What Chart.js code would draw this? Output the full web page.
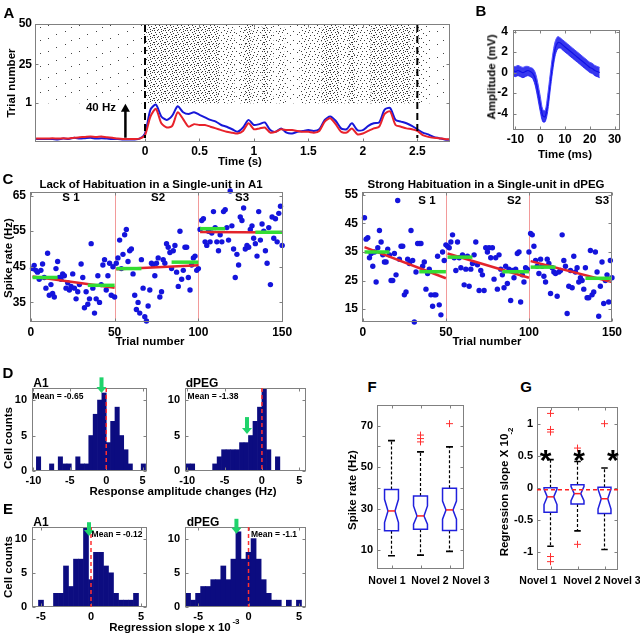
<!DOCTYPE html>
<html>
<head>
<meta charset="utf-8">
<script src="https://cdn.jsdelivr.net/npm/chart.js@4.4.0/dist/chart.umd.min.js"></script>
<style>
  body { margin: 0; background: #fff; }
  #fig { position: relative; width: 640px; height: 637px; overflow: hidden;
         font-family: 'Liberation Sans', Arial, sans-serif; font-weight: bold; color: #000; }
  canvas { position: absolute; }
  .t { position: absolute; white-space: nowrap; line-height: 1; transform: translate(-50%, -50%); }
  .t.r { transform: translate(-50%, -50%) rotate(-90deg); }
</style>
</head>
<body>
<div id="fig">
  <canvas id="cA"></canvas>
  <canvas id="cB"></canvas>
  <canvas id="cC1"></canvas>
  <canvas id="cC2"></canvas>
  <canvas id="cD1"></canvas>
  <canvas id="cD2"></canvas>
  <canvas id="cE1"></canvas>
  <canvas id="cE2"></canvas>
  <canvas id="cF"></canvas>
  <canvas id="cG"></canvas>
</div>
<script>
// ---- A: raster + PSTH (rates in Hz, 50 ms steps) ----
const psthTime = [-1.00, -0.95, -0.90, -0.85, -0.80, -0.75, -0.70, -0.65, -0.60, -0.55,
  -0.50, -0.45, -0.40, -0.35, -0.30, -0.25, -0.20, -0.15, -0.10, -0.05,
  0.00, 0.05, 0.10, 0.15, 0.20, 0.25, 0.30, 0.35, 0.40, 0.45,
  0.50, 0.55, 0.60, 0.65, 0.70, 0.75, 0.80, 0.85, 0.90, 0.95,
  1.00, 1.05, 1.10, 1.15, 1.20, 1.25, 1.30, 1.35, 1.40, 1.45,
  1.50, 1.55, 1.60, 1.65, 1.70, 1.75, 1.80, 1.85, 1.90, 1.95,
  2.00, 2.05, 2.10, 2.15, 2.20, 2.25, 2.30, 2.35, 2.40, 2.45,
  2.50, 2.55, 2.60, 2.65, 2.70, 2.75, 2.80];
const psthBlue = [3.5, 3.5, 3.5, 3.5, 3.0, 4.0, 3.5, 5.0, 4.0, 4.5,
  5.0, 4.0, 4.5, 4.0, 3.5, 3.5, 3.0, 3.0, 3.0, 4.0,
  10, 38, 44, 30, 26, 31, 42, 35, 33, 35,
  32, 29, 26, 24, 20, 18, 15, 12, 17, 26,
  20, 21, 23, 14, 12, 16, 11, 10, 12, 13,
  14, 13, 15, 26, 30, 25, 16, 15, 22, 14,
  14, 19, 22, 23, 38, 40, 26, 24, 22, 19,
  15, 11, 9, 6, 4.5, 3, 2.5];
const psthRed = [4.0, 4.0, 4.0, 4.5, 4.0, 4.5, 4.0, 5.0, 5.5, 6.0,
  6.5, 6.0, 6.5, 5.5, 5.0, 4.0, 3.5, 3.5, 3.5, 4.0,
  8, 30, 39, 22, 17, 19, 35, 27, 18, 21,
  20, 20, 18, 16, 14, 12, 11, 10, 13, 22,
  15, 16, 17, 11, 12, 15, 14, 14, 13, 12,
  12, 11, 13, 24, 28, 21, 12, 11, 16, 9,
  10, 13, 16, 18, 33, 36, 20, 18, 16, 15,
  13, 8, 6, 5, 4.5, 3.5, 3];
const rasterTrials = [1, 50];
const trialTicks = [1, 25, 50];
const timeTicks = [0, 0.5, 1, 1.5, 2, 2.5];
const stimLines = [0, 2.5];
const scaleBar = [-0.18, 5, 45]; // time, from Hz, to Hz (40 Hz)

// ---- B: spike waveforms (mV) ----
const waveTime = [-11, -10, -9, -8, -7, -6, -5, -4, -3, -2, -1, 0, 1, 2, 3, 4, 5, 6,
  7, 8, 9, 10, 11, 12, 13, 14, 15, 16, 17, 18, 19, 20, 21, 22, 23, 24];
const waveMean = [0.2, 0.1, 0.2, 0.1, 0.0, 0.1, 0.2, 0.1, -0.1, -0.6, -1.7, -3.0, -4.2, -4.3, -3.0, -1.0, 0.9, 2.3,
  2.9, 2.9, 2.7, 2.5, 2.3, 2.1, 1.9, 1.7, 1.5, 1.3, 1.1, 0.9, 0.7, 0.5, 0.4, 0.2, 0.1, 0.0];
const waveUpper = [0.6, 0.6, 0.7, 0.6, 0.5, 0.6, 0.6, 0.5, 0.4, 0.0, -1.0, -2.3, -3.6, -3.7, -2.2, -0.2, 1.7, 3.0,
  3.5, 3.4, 3.2, 3.0, 2.8, 2.6, 2.4, 2.2, 2.0, 1.8, 1.6, 1.4, 1.2, 1.0, 0.9, 0.7, 0.6, 0.5];
const waveLower = [-0.3, -0.4, -0.3, -0.4, -0.5, -0.4, -0.3, -0.4, -0.6, -1.3, -2.5, -3.8, -4.8, -4.8, -3.8, -1.8, 0.1, 1.6,
  2.3, 2.4, 2.2, 2.0, 1.8, 1.6, 1.4, 1.2, 1.0, 0.8, 0.6, 0.4, 0.2, 0.0, -0.1, -0.3, -0.4, -0.5];

// ---- C: spike rate per trial, three sessions of 50 trials ----
const segStart = [1, 51, 101];
const segEnd = [50, 100, 150];
const a1Rates = [
  [44.5, 45.4, 44.0, 43.5, 41.5, 44.0, 45.8, 42.0, 39.0, 48.8, 37.0, 40.0, 37.5, 36.5, 44.5, 46.5, 42.0, 41.5, 43.0, 42.5,
   39.0, 40.5, 38.5, 39.5, 43.0, 39.0, 36.0, 38.0, 40.0, 45.8, 42.0, 33.5, 38.0, 34.5, 36.0, 51.5, 39.0, 32.0, 36.0, 42.5,
   35.0, 40.0, 45.5, 47.0, 38.5, 42.5, 46.0, 37.0, 45.0, 36.5],
  [46.0, 47.5, 52.5, 44.5, 48.5, 54.0, 55.5, 46.5, 49.5, 50.0, 43.0, 37.0, 33.0, 35.0, 32.0, 47.0, 39.0, 31.0, 29.8, 34.0,
   38.5, 46.0, 45.5, 42.5, 46.0, 47.5, 36.5, 38.0, 47.0, 46.0, 51.5, 50.5, 49.0, 44.5, 49.5, 51.0, 43.5, 39.5, 55.0, 41.5,
   44.0, 50.5, 50.5, 42.0, 38.5, 45.5, 47.5, 48.0, 44.0, 44.5],
  [55.5, 58.0, 58.5, 52.0, 51.0, 55.0, 52.0, 54.5, 60.5, 56.0, 52.0, 49.5, 54.0, 52.0, 60.5, 61.0, 56.0, 52.5, 66.3, 56.5,
   50.0, 42.0, 48.5, 45.5, 59.0, 58.0, 61.5, 50.0, 51.0, 50.5, 55.5, 56.5, 53.0, 51.5, 48.0, 60.5, 52.5, 57.0, 55.0, 49.5,
   46.0, 56.0, 40.0, 59.0, 53.0, 58.5, 52.0, 60.0, 62.0, 51.0]
];
const a1FitStart = [42.3, 44.3, 54.8];
const a1FitEnd = [39.1, 45.4, 54.6];
const a1EarlyMean = [42.0, 44.5, 55.7];
const a1LateMean = [39.8, 46.3, 54.7];
const dpegRates = [
  [47.0, 39.5, 40.0, 33.0, 34.5, 30.0, 35.0, 24.5, 36.5, 42.5, 38.5, 34.0, 31.5, 31.5, 36.0, 34.0, 25.0, 25.0, 34.5, 27.0,
   53.0, 32.5, 37.0, 37.0, 20.0, 21.0, 32.5, 31.0, 42.5, 32.0, 10.5, 28.0, 38.0, 38.0, 38.0, 30.0, 31.5, 22.0, 27.5, 29.0,
   20.0, 16.0, 20.0, 20.0, 33.5, 16.5, 13.0, 35.0, 32.0, 37.5],
  [37.0, 36.5, 38.5, 41.0, 33.0, 28.5, 38.5, 33.0, 29.5, 34.0, 23.5, 29.0, 33.5, 23.0, 29.0, 31.0, 34.0, 38.5, 30.5, 21.5,
   28.5, 27.0, 21.5, 36.5, 35.0, 36.5, 33.0, 36.5, 25.5, 33.0, 22.0, 34.0, 29.0, 27.0, 22.5, 30.0, 24.0, 29.0, 18.0, 28.5,
   26.0, 29.0, 34.5, 35.0, 17.5, 27.0, 24.5, 29.5, 29.0, 35.0],
  [41.5, 41.0, 37.0, 32.0, 30.0, 27.5, 32.5, 30.0, 26.5, 24.5, 32.5, 31.0, 20.5, 29.5, 28.0, 27.5, 19.5, 28.0, 28.5, 41.0,
   32.0, 30.0, 13.5, 23.0, 28.5, 22.5, 33.5, 28.0, 29.5, 24.5, 26.0, 25.0, 22.0, 29.5, 19.0, 19.0, 35.5, 20.0, 21.0, 35.0,
   28.0, 12.5, 23.0, 31.5, 17.0, 25.0, 27.0, 17.5, 32.0, 26.0]
];
const dpegFitStart = [36.7, 34.5, 31.8];
const dpegFitEnd = [25.8, 26.0, 24.5];
const dpegEarlyMean = [35.0, 33.2, 29.7];
const dpegLateMean = [28.1, 28.1, 25.8];

// ---- D: response amplitude changes (Hz), histograms ----
const dA1Bins = [-9.3, -8.7, -8.1, -7.5, -6.9, -6.3, -5.7, -5.1, -4.5, -3.9, -3.3, -2.7, -2.1,
  -1.5, -0.9, -0.3, 0.3, 0.9, 1.5, 2.1, 2.7, 3.3, 3.9, 4.5, 5.1];
const dA1Counts = [2, 0, 0, 1, 0, 2, 1, 1, 0, 2, 1, 1, 5, 8, 10, 11, 4, 7, 9, 5, 3, 1, 0, 0, 1];
const dDpegBins = [-9.9, -9.3, -8.7, -8.1, -7.5, -6.9, -6.3, -5.7, -5.1, -4.5, -3.9, -3.3, -2.7,
  -2.1, -1.5, -0.9, -0.3, 0.3, 0.9, 1.5, 2.1];
const dDpegCounts = [1, 1, 0, 0, 0, 0, 1, 2, 3, 3, 3, 3, 4, 4, 5, 7, 9, 12, 3, 0, 2];
const dA1Mean = [-0.65, 13.2, 11.0];   // arrow: x, from, to (counts)
const dDpegMean = [-2.0, 7.6, 5.2];

// ---- E: regression slope (x 10^-3), histograms ----
const eA1Bins = [-5.0, -4.5, -4.0, -3.5, -3.0, -2.5, -2.0, -1.5, -1.0, -0.5, 0.0, 0.5, 1.0, 1.5, 2.0, 2.5, 3.0, 3.5, 4.0, 4.5];
const eA1Counts = [1, 0, 0, 2, 2, 6, 3, 7, 7, 12, 4, 8, 8, 6, 5, 2, 1, 1, 1, 2];
const eDpegBins = [-6.0, -5.5, -5.0, -4.5, -4.0, -3.5, -3.0, -2.5, -2.0, -1.5, -1.0, -0.5, 0.0, 0.5,
  1.0, 1.5, 2.0, 2.5, 3.0, 3.5, 4.0, 4.5, 5.0];
const eDpegCounts = [2, 1, 2, 3, 3, 4, 4, 6, 4, 7, 11, 7, 8, 10, 7, 4, 2, 1, 1, 0, 1, 0, 1];
const eA1Mean = [-0.2, 12.4, 10.4];
const eDpegMean = [-1.2, 12.9, 10.7];

// ---- F/G: box plots for Novel 1..3 ----
const novelGroups = [1, 2, 3];
const fLowWhisker = [7.3, 7.6, 9.4];
const fQ1 = [19.3, 20.1, 19.5];
const fMedian = [28.9, 26.5, 29.4];
const fQ3 = [39.3, 36.1, 39.9];
const fHighWhisker = [62.8, 57.4, 59.8];
const fNotchLow = [23.3, 22.5, 24.9];
const fNotchHigh = [34.5, 31.3, 33.7];
const fOutliers = [[], [65.5, 63.8, 62.2], [71]];
const gLowWhisker = [-0.91, -0.67, -0.96];
const gQ1 = [-0.38, -0.25, -0.40];
const gMedian = [-0.14, -0.09, -0.17];
const gQ3 = [0.00, 0.05, 0.01];
const gHighWhisker = [0.44, 0.41, 0.31];
const gNotchLow = [-0.26, -0.20, -0.33];
const gNotchHigh = [-0.02, 0.02, -0.02];
const gOutliers = [[1.16, 0.91, 0.87, -1.07, -1.15], [0.62, -0.88], [1.0]];
const gRefLine = -0.03;
const gStarX = [0.82, 2.06, 3.31];
const gStarY = 0.52;

// ---------------------------------------------------------------
Chart.defaults.font.family = "'Liberation Sans', Arial, sans-serif";
Chart.defaults.font.weight = 'bold';
Chart.defaults.color = '#000';
Chart.defaults.animation = false;
Chart.defaults.plugins.legend.display = false;
Chart.defaults.plugins.tooltip.enabled = false;

// MATLAB-style box with inward tick marks
Chart.register({
  id: 'frame',
  afterDatasetsDraw(chart) {
    const { ctx, chartArea: a, scales } = chart;
    const l = Math.round(a.left) + 0.5, r = Math.round(a.right) - 0.5;
    const t = Math.round(a.top) + 0.5, b = Math.round(a.bottom) - 0.5;
    ctx.save();
    ctx.strokeStyle = '#808080';
    ctx.lineWidth = 1;
    ctx.setLineDash([]);
    ctx.strokeRect(l, t, r - l, b - t);
    ctx.beginPath();
    scales.x.ticks.forEach(tk => {
      const px = Math.round(scales.x.getPixelForValue(tk.value)) + 0.5;
      ctx.moveTo(px, b); ctx.lineTo(px, b - 3);
      ctx.moveTo(px, t); ctx.lineTo(px, t + 3);
    });
    scales.y.ticks.forEach(tk => {
      const py = Math.round(scales.y.getPixelForValue(tk.value)) + 0.5;
      ctx.moveTo(l, py); ctx.lineTo(l + 3, py);
      ctx.moveTo(r, py); ctx.lineTo(r - 3, py);
    });
    ctx.stroke();
    ctx.restore();
  }
});

function axis(min, max, ticks, size, horiz, o = {}) {
  return {
    type: 'linear', min, max, offset: false,
    grid: { display: false, drawTicks: false },
    border: { display: false },
    ticks: {
      display: o.labels !== false,
      padding: o.pad ?? 3,
      autoSkip: false, maxRotation: 0,
      font: { size: o.font ?? 12, weight: 'bold' },
      color: '#000',
      callback: o.cb || (v => v)
    },
    afterBuildTicks: s => { s.ticks = ticks.map(v => ({ value: v })); },
    afterFit: s => {
      if (horiz) s.height = size; else s.width = size;
      s.paddingLeft = s.paddingRight = s.paddingTop = s.paddingBottom = 0;
    }
  };
}

// box = [left, top, width, height] of the plot area; pad = [left, top, right, bottom]
function chartAt(id, box, pad, config) {
  const c = document.getElementById(id);
  c.width = box[2] + pad[0] + pad[2];
  c.height = box[3] + pad[1] + pad[3];
  c.style.left = (box[0] - pad[0]) + 'px';
  c.style.top = (box[1] - pad[1]) + 'px';
  config.options.responsive = false;
  config.options.devicePixelRatio = 1;
  config.options.layout = { padding: { left: 0, top: pad[1], right: pad[2], bottom: 0 } };
  return new Chart(c, config);
}

function arrowDown(ctx, x, y0, y1, color) {
  ctx.fillStyle = color;
  ctx.fillRect(x - 2, y0, 4, y1 - y0 - 5);
  ctx.beginPath();
  ctx.moveTo(x - 5, y1 - 6); ctx.lineTo(x + 5, y1 - 6); ctx.lineTo(x, y1);
  ctx.closePath(); ctx.fill();
}

// ---- Panel A ----
// speckle tiles for the raster, denser where the firing rate is higher
function dots(w, h, pts, color) {
  const c = document.createElement('canvas');
  c.width = w; c.height = h;
  const g = c.getContext('2d');
  g.fillStyle = color;
  pts.forEach(([x, y]) => g.fillRect(x, y, 1, 1));
  return g.createPattern(c, 'repeat');
}
const rasterFills = [
  dots(31, 13, [[3, 2], [17, 9], [25, 5], [9, 11]], '#444'),
  dots(17, 9, [[1, 1], [8, 0], [13, 4], [4, 6], [10, 7], [15, 8]], '#444'),
  dots(13, 8, [[0, 0], [5, 1], [9, 0], [2, 3], [11, 3], [7, 4], [3, 6], [10, 6], [6, 7]], '#3c3c3c'),
  dots(11, 7, [[0, 0], [3, 0], [7, 1], [9, 0], [1, 2], [5, 2], [8, 3], [2, 4], [6, 4], [10, 5], [4, 6], [0, 5], [7, 6]], '#3a3a3a')
];
const rasterLevel = r => r < 7 ? 0 : r < 13 ? 1 : r < 22 ? 2 : 3;

chartAt('cA', [35, 24, 415, 118], [35, 8, 6, 16], {
  type: 'line',
  data: {
    datasets: [
      { type: 'bar', yAxisID: 'y', order: 3,
        data: psthTime.map(t => ({ x: t, y: rasterTrials })),
        backgroundColor: psthBlue.map(r => rasterFills[rasterLevel(r)]),
        barPercentage: 1, categoryPercentage: 1, borderWidth: 0 },
      { yAxisID: 'y2', order: 1, data: psthTime.map((t, i) => ({ x: t, y: psthRed[i] })),
        borderColor: '#e8222b', borderWidth: 2, pointRadius: 0, tension: 0.25 },
      { yAxisID: 'y2', order: 2, data: psthTime.map((t, i) => ({ x: t, y: psthBlue[i] })),
        borderColor: '#1717d8', borderWidth: 2, pointRadius: 0, tension: 0.25 }
    ]
  },
  options: {
    scales: {
      x: axis(-1.01, 2.8, timeTicks, 16, true, { pad: 2 }),
      y: axis(-23.2, 50, trialTicks, 35, false, { pad: 3 }),
      y2: { type: 'linear', display: false, min: 0, max: 138.8 }
    }
  },
  plugins: [{
    id: 'aMarks',
    afterDatasetsDraw(chart) {
      const { ctx, chartArea: a, scales: { x, y2 } } = chart;
      ctx.save();
      ctx.strokeStyle = '#000'; ctx.lineWidth = 2; ctx.setLineDash([7, 4]);
      stimLines.forEach(t => {
        const px = x.getPixelForValue(t);
        ctx.beginPath(); ctx.moveTo(px, a.top + 1); ctx.lineTo(px, a.bottom - 4); ctx.stroke();
      });
      ctx.setLineDash([]);
      const ax = x.getPixelForValue(scaleBar[0]);
      const yb = y2.getPixelForValue(scaleBar[1]), yt = y2.getPixelForValue(scaleBar[2]);
      ctx.lineWidth = 2.5;
      ctx.beginPath(); ctx.moveTo(ax, yb); ctx.lineTo(ax, yt + 6); ctx.stroke();
      ctx.fillStyle = '#000';
      ctx.beginPath(); ctx.moveTo(ax - 4.5, yt + 8); ctx.lineTo(ax + 4.5, yt + 8); ctx.lineTo(ax, yt); ctx.closePath(); ctx.fill();
      ctx.restore();
    }
  }]
});

// ---- Panel B ----
chartAt('cB', [513, 30, 107, 100], [22, 8, 6, 18], {
  type: 'line',
  data: {
    datasets: [
      { data: waveTime.map((t, i) => ({ x: t, y: waveUpper[i] })), fill: '+1',
        backgroundColor: 'rgba(20,20,235,0.85)', borderColor: '#5050ff', borderWidth: 1, pointRadius: 0, tension: 0.3 },
      { data: waveTime.map((t, i) => ({ x: t, y: waveLower[i] })),
        borderColor: '#5050ff', borderWidth: 1, pointRadius: 0, tension: 0.3 },
      { data: waveTime.map((t, i) => ({ x: t, y: waveMean[i] })),
        borderColor: '#0000c8', borderWidth: 1.2, pointRadius: 0, tension: 0.3 }
    ]
  },
  options: {
    scales: {
      x: axis(-11, 32.2, [-10, 0, 10, 20, 30], 18, true, { pad: 2 }),
      y: axis(-5.6, 4.15, [-4, -2, 0, 2, 4], 22, false, { pad: 5 })
    }
  }
});

// ---- Panel C ----
function sessionChart(id, box, pad, yMin, yMax, yTicks, xMax, rates, fitS, fitE, early, late) {
  const pts = rates.flatMap((arr, s) => arr.map((v, i) => ({ x: segStart[s] + i, y: v })));
  const sets = [{ data: pts, pointRadius: 2.7, pointBackgroundColor: '#1414dc', pointBorderWidth: 0, order: 3, clip: false }];
  segStart.forEach((s0, s) => {
    sets.push({ data: [{ x: s0, y: fitS[s] }, { x: segEnd[s], y: fitE[s] }], showLine: true,
      borderColor: '#e3242b', borderWidth: 2.5, pointRadius: 0, order: 2 });
    sets.push({ data: [{ x: s0, y: early[s] }, { x: s0 + 15, y: early[s] }], showLine: true,
      borderColor: '#33dd33', borderWidth: 3.5, pointRadius: 0, order: 1 });
    sets.push({ data: [{ x: segEnd[s] - 16, y: late[s] }, { x: segEnd[s], y: late[s] }], showLine: true,
      borderColor: '#33dd33', borderWidth: 3.5, pointRadius: 0, order: 1 });
  });
  return chartAt(id, box, pad, {
    type: 'scatter',
    data: { datasets: sets },
    options: {
      scales: {
        x: axis(-0.5, xMax, [0, 50, 100, 150], 16, true, { pad: 3, font: 12 }),
        y: axis(yMin, yMax, yTicks, pad[0], false, { pad: 4, font: 12 })
      }
    },
    plugins: [{
      id: 'sessions',
      beforeDatasetsDraw(chart) {
        const { ctx, chartArea: a, scales: { x } } = chart;
        ctx.save();
        ctx.strokeStyle = '#f29a9a'; ctx.lineWidth = 1;
        segEnd.slice(0, 2).forEach(v => {
          const px = Math.round(x.getPixelForValue(v)) + 0.5;
          ctx.beginPath(); ctx.moveTo(px, a.top); ctx.lineTo(px, a.bottom); ctx.stroke();
        });
        ctx.restore();
      }
    }]
  });
}
sessionChart('cC1', [30, 192, 253, 130], [30, 6, 14, 16], 29.5, 66, [35, 45, 55, 65], 150.5,
  a1Rates, a1FitStart, a1FitEnd, a1EarlyMean, a1LateMean);
sessionChart('cC2', [362, 192, 250, 130], [25, 6, 14, 16], 10.5, 56, [15, 25, 35, 45, 55], 150,
  dpegRates, dpegFitStart, dpegFitEnd, dpegEarlyMean, dpegLateMean);

// ---- Panels D, E ----
function histChart(id, box, xMin, xMax, xTicks, bins, counts, mean) {
  return chartAt(id, box, [22, 20, 6, 16], {
    type: 'bar',
    data: {
      datasets: [{ data: bins.map((b, i) => ({ x: b, y: counts[i] })),
        backgroundColor: '#0c0c80', borderWidth: 0, barPercentage: 1, categoryPercentage: 1 }]
    },
    options: {
      scales: {
        x: axis(xMin, xMax, xTicks, 16, true, { pad: 3, font: 11 }),
        y: axis(0, 11.7, [0, 5, 10], 22, false, { pad: 5, font: 11 })
      }
    },
    plugins: [{
      id: 'histMarks',
      afterDatasetsDraw(chart) {
        const { ctx, chartArea: a, scales: { x, y } } = chart;
        ctx.save();
        const px = x.getPixelForValue(0);
        ctx.strokeStyle = '#ff3030'; ctx.lineWidth = 1.5; ctx.setLineDash([4, 3]);
        ctx.beginPath(); ctx.moveTo(px, a.top); ctx.lineTo(px, a.bottom); ctx.stroke();
        ctx.setLineDash([]);
        arrowDown(ctx, x.getPixelForValue(mean[0]), y.getPixelForValue(mean[1]), y.getPixelForValue(mean[2]), '#1fd36b');
        ctx.restore();
      }
    }]
  });
}
histChart('cD1', [32, 388, 115, 83], -10.2, 5.6, [-10, -5, 0, 5], dA1Bins, dA1Counts, dA1Mean);
histChart('cD2', [185, 388, 121, 83], -10.3, 5.9, [-10, -5, 0, 5], dDpegBins, dDpegCounts, dDpegMean);
histChart('cE1', [32, 527, 115, 80], -5.9, 5.6, [-5, 0, 5], eA1Bins, eA1Counts, eA1Mean);
histChart('cE2', [185, 527, 121, 80], -6.3, 5.7, [-5, 0, 5], eDpegBins, eDpegCounts, eDpegMean);

// ---- Panels F, G ----
function boxChart(id, box, padL, yMin, yMax, yTicks, cb, st, extra) {
  const outl = st.out.flatMap((arr, i) => arr.map(v => ({ x: novelGroups[i], y: v })));
  return chartAt(id, box, [padL, 6, 6, 4], {
    type: 'scatter',
    data: { datasets: [{ data: outl, pointStyle: 'cross', pointRadius: 3.5, borderColor: '#ff3030', borderWidth: 1 }] },
    options: {
      scales: {
        x: axis(0.5, 3.5, novelGroups, 4, true, { labels: false }),
        y: axis(yMin, yMax, yTicks, padL, false, { pad: 4, font: 11, cb })
      }
    },
    plugins: [{
      id: 'boxes',
      afterDatasetsDraw(chart) {
        const { ctx, scales: { x, y } } = chart;
        ctx.save();
        novelGroups.forEach((g, i) => {
          const cx = x.getPixelForValue(g);
          const hw = x.getPixelForValue(g + 0.24) - cx, ins = hw / 2;
          const Y = v => y.getPixelForValue(v);
          // whiskers
          ctx.strokeStyle = '#000'; ctx.lineWidth = 1.2; ctx.setLineDash([3, 2]);
          ctx.beginPath();
          ctx.moveTo(cx, Y(st.q3[i])); ctx.lineTo(cx, Y(st.hi[i]));
          ctx.moveTo(cx, Y(st.q1[i])); ctx.lineTo(cx, Y(st.lo[i]));
          ctx.stroke();
          ctx.setLineDash([]); ctx.lineWidth = 1.6;
          ctx.beginPath();
          ctx.moveTo(cx - hw / 2, Y(st.hi[i])); ctx.lineTo(cx + hw / 2, Y(st.hi[i]));
          ctx.moveTo(cx - hw / 2, Y(st.lo[i])); ctx.lineTo(cx + hw / 2, Y(st.lo[i]));
          ctx.stroke();
          // notched box
          ctx.fillStyle = '#fff';
          ctx.strokeStyle = '#2020dd'; ctx.lineWidth = 1.5;
          ctx.beginPath();
          ctx.moveTo(cx - hw, Y(st.q3[i])); ctx.lineTo(cx + hw, Y(st.q3[i]));
          ctx.lineTo(cx + hw, Y(st.nh[i])); ctx.lineTo(cx + ins, Y(st.med[i]));
          ctx.lineTo(cx + hw, Y(st.nl[i])); ctx.lineTo(cx + hw, Y(st.q1[i]));
          ctx.lineTo(cx - hw, Y(st.q1[i])); ctx.lineTo(cx - hw, Y(st.nl[i]));
          ctx.lineTo(cx - ins, Y(st.med[i])); ctx.lineTo(cx - hw, Y(st.nh[i]));
          ctx.closePath(); ctx.fill(); ctx.stroke();
          ctx.strokeStyle = '#ff2020';
          ctx.beginPath(); ctx.moveTo(cx - ins, Y(st.med[i])); ctx.lineTo(cx + ins, Y(st.med[i])); ctx.stroke();
        });
        if (extra) extra(chart);
        ctx.restore();
      }
    }]
  });
}
boxChart('cF', [377, 405, 87, 165], 22, 0.9, 80, [10, 20, 30, 40, 50, 60, 70],
  v => ([10, 30, 50, 70].includes(v) ? v : ''),
  { lo: fLowWhisker, q1: fQ1, med: fMedian, q3: fQ3, hi: fHighWhisker, nl: fNotchLow, nh: fNotchHigh, out: fOutliers });
boxChart('cG', [537, 407, 81, 164], 30, -1.28, 1.26, [-1, -0.5, 0, 0.5, 1], null,
  { lo: gLowWhisker, q1: gQ1, med: gMedian, q3: gQ3, hi: gHighWhisker, nl: gNotchLow, nh: gNotchHigh, out: gOutliers },
  chart => {
    const { ctx, chartArea: a, scales: { x, y } } = chart;
    const py = y.getPixelForValue(gRefLine);
    ctx.strokeStyle = '#ff2020'; ctx.lineWidth = 1.5; ctx.setLineDash([4, 3]);
    ctx.beginPath(); ctx.moveTo(a.left, py); ctx.lineTo(a.right, py); ctx.stroke();
    ctx.setLineDash([]);
    ctx.fillStyle = '#000'; ctx.font = "bold 30px 'Liberation Sans', Arial";
    ctx.textAlign = 'center'; ctx.textBaseline = 'middle';
    gStarX.forEach(sx => ctx.fillText('*', x.getPixelForValue(sx), y.getPixelForValue(gStarY) + 7));
  });

// ---- text ----
const fig = document.getElementById('fig');
function label(txt, x, y, size, rot) {
  const d = document.createElement('div');
  d.className = 't' + (rot ? ' r' : '');
  d.textContent = txt;
  d.style.left = x + 'px'; d.style.top = y + 'px'; d.style.fontSize = size + 'px';
  fig.appendChild(d);
}
[['A', 9, 12], ['B', 481, 10], ['C', 8, 178], ['D', 8, 372], ['E', 8, 508], ['F', 372, 386], ['G', 526, 386]]
  .forEach(([s, x, y]) => label(s, x, y, 15));
label('Trial number', 12, 83, 11.5, true);
label('Time (s)', 240, 162, 11.5);
label('40 Hz', 101, 108, 11.5);
label('Amplitude (mV)', 492, 77, 11.5, true);
label('Time (ms)', 565, 155, 11.5);
label('Lack of Habituation in a Single-unit in A1', 151, 185, 11.5);
label('Strong Habituation in a Single-unit in dPEG', 486, 185, 11.5);
label('S 1', 71, 198, 11.5); label('S2', 158, 198, 11.5); label('S3', 242, 198, 11.5);
label('S 1', 427, 201, 11.5); label('S2', 514, 201, 11.5); label('S3', 602, 201, 11.5);
label('Spike rate (Hz)', 9, 258, 11.5, true);
label('Trial number', 150, 342, 11.5); label('Trial number', 487, 342, 11.5);
label('A1', 41, 383, 12); label('dPEG', 202, 383, 12);
label('Mean = -0.65', 58, 396, 8.5); label('Mean = -1.38', 213, 396, 8.5);
label('Cell counts', 9, 438, 11.5, true);
label('Response amplitude changes (Hz)', 183, 492, 11.5);
label('A1', 41, 522, 12); label('dPEG', 203, 522, 12);
label('Mean = -0.12', 117, 534, 8.5); label('Mean = -1.1', 274, 534, 8.5);
label('Cell counts', 9, 567, 11.5, true);
label('Regression slope x 10', 170, 628, 11.5); label('-3', 236, 622, 8);
label('Spike rate (Hz)', 353, 490, 11.5, true);
label('Novel 1', 387, 580, 10.5); label('Novel 2', 430, 580, 10.5); label('Novel 3', 471, 580, 10.5);
label('Regression slope X 10', 505, 495, 11.5, true); label('-2', 511, 431, 8, true);
label('Novel 1', 538, 580, 10.5); label('Novel 2', 582, 580, 10.5); label('Novel 3', 622, 580, 10.5);
</script>
</body>
</html>
